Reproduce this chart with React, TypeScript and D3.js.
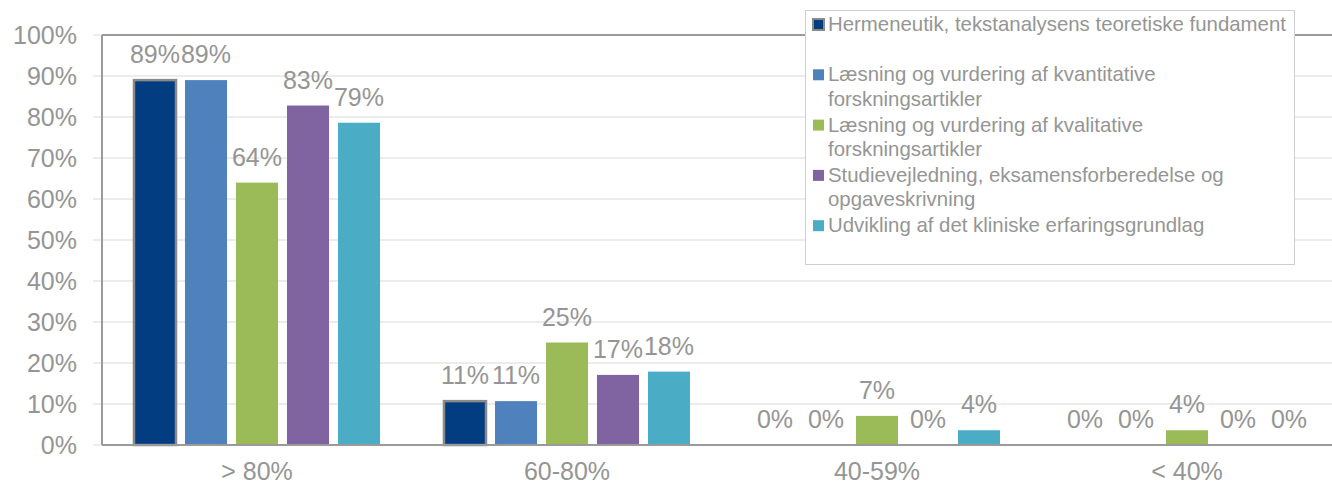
import React from "react";
import * as d3 from "d3";

const categories = ["> 80%", "60-80%", "40-59%", "< 40%"];
const seriesNames = [
  "Hermeneutik, tekstanalysens teoretiske fundament",
  "Læsning og vurdering af kvantitative forskningsartikler",
  "Læsning og vurdering af kvalitative forskningsartikler",
  "Studievejledning, eksamensforberedelse og opgaveskrivning",
  "Udvikling af det kliniske erfaringsgrundlag",
];
const legendLines = [
  ["Hermeneutik, tekstanalysens teoretiske fundament", ""],
  ["Læsning og vurdering af kvantitative", "forskningsartikler"],
  ["Læsning og vurdering af kvalitative", "forskningsartikler"],
  ["Studievejledning, eksamensforberedelse og", "opgaveskrivning"],
  ["Udvikling af det kliniske erfaringsgrundlag"],
];
const hermeneutik = [89, 10.7, 0, 0];
const kvantitative = [89, 10.7, 0, 0];
const kvalitative = [64, 25, 7.1, 3.6];
const studievejledning = [82.8, 17.1, 0, 0];
const klinisk = [78.6, 17.9, 3.6, 0];
const seriesValues = [hermeneutik, kvantitative, kvalitative, studievejledning, klinisk];
const colors = ["#023d82", "#4f81bd", "#9bbb59", "#8064a2", "#4bacc6"];
const yTicks = [0, 10, 20, 30, 40, 50, 60, 70, 80, 90, 100];

const W = 1332;
const H = 486;
const left = 102;
const top = 35;
const bottom = 445;
const textColor = "#959595";
const font = "'Liberation Sans', Arial, Helvetica, sans-serif";

export default function App() {
  const x = d3.scaleBand<string>().domain(categories).range([left, left + 1240]).padding(0);
  const inner = d3
    .scaleBand<number>()
    .domain(d3.range(seriesNames.length))
    .range([0, x.bandwidth()])
    .paddingInner(0.176)
    .paddingOuter(0.627);
  const y = d3.scaleLinear().domain([0, 100]).range([bottom, top]);

  return (
    <svg
      width={W}
      height={H}
      style={{ position: "absolute", left: 0, top: 0, background: "#fff" }}
      fontFamily={font}
    >
      {yTicks.map((t) => (
        <g key={t}>
          <line x1={left - 9} x2={W} y1={y(t)} y2={y(t)} stroke="#d9d9d9" strokeWidth={1} />
          <text x={77} y={y(t) + 9} textAnchor="end" fontSize={25} fill={textColor}>
            {t}%
          </text>
        </g>
      ))}
      <line x1={left} x2={W} y1={top} y2={top} stroke="#9a9a9a" strokeWidth={2} />
      {seriesValues.map((vals, si) =>
        vals.map((v, ci) => {
          const bx = (x(categories[ci]) as number) + (inner(si) as number);
          const bw = inner.bandwidth();
          const by = y(v);
          return (
            <g key={`${si}-${ci}`}>
              {v > 0 && (
                <rect
                  x={bx}
                  y={by}
                  width={bw}
                  height={bottom - by}
                  fill={colors[si]}
                  stroke={si === 0 ? "#8a8a8a" : "none"}
                  strokeWidth={si === 0 ? 2.5 : 0}
                />
              )}
              <text
                x={bx + bw / 2}
                y={by - 17}
                textAnchor="middle"
                fontSize={25}
                fill={textColor}
              >
                {Math.round(v)}%
              </text>
            </g>
          );
        })
      )}
      <line x1={left} x2={left} y1={top} y2={bottom} stroke="#9a9a9a" strokeWidth={2} />
      <line x1={left} x2={W} y1={bottom} y2={bottom} stroke="#9a9a9a" strokeWidth={2} />
      {categories.map((c) => (
        <text
          key={c}
          x={(x(c) as number) + x.bandwidth() / 2}
          y={480}
          textAnchor="middle"
          fontSize={25}
          fill={textColor}
        >
          {c}
        </text>
      ))}
      <rect x={805.5} y={10.5} width={489} height={254} fill="#fff" stroke="#cfcfcf" strokeWidth={1} />
      {legendLines.map((lines, i) => {
        const base = 31 + i * 50.3;
        return (
          <g key={i}>
            <rect
              x={813}
              y={base - 12}
              width={11}
              height={11}
              fill={colors[i]}
              stroke={i === 0 ? "#8a8a8a" : "none"}
              strokeWidth={i === 0 ? 2 : 0}
            />
            {lines.map((l, li) => (
              <text key={li} x={828} y={base + li * 24.5} fontSize={20.4} fill={textColor}>
                {l}
              </text>
            ))}
          </g>
        );
      })}
    </svg>
  );
}
